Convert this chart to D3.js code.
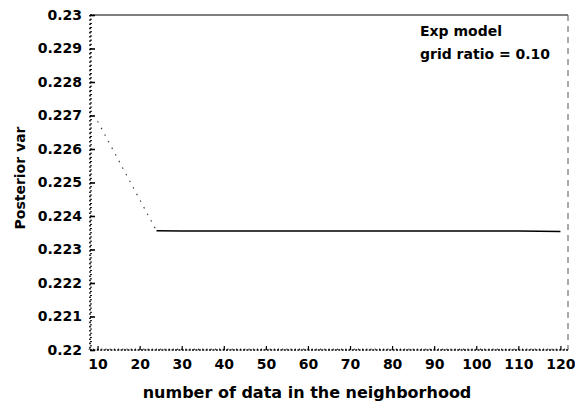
<!DOCTYPE html>
<html>
<head>
<meta charset="utf-8">
<script src="https://cdn.jsdelivr.net/npm/d3@7"></script>
<style>
  html, body { margin: 0; padding: 0; background: #fff; }
  svg text { font-family: "DejaVu Sans", "Liberation Sans", Arial, sans-serif; font-weight: bold; fill: #000; }
</style>
</head>
<body>
<svg id="chart" width="575" height="408"></svg>
<script>
// Neighbourhood sizes and the posterior variance computed for each
const nData = [10, 24, 30, 40, 50, 60, 70, 80, 90, 100, 110, 120];
const postVar = [0.22683, 0.22356, 0.22355, 0.22355, 0.22355, 0.22355, 0.22355, 0.22355, 0.22355, 0.22355, 0.22355, 0.22354];
const xTicks = [10, 20, 30, 40, 50, 60, 70, 80, 90, 100, 110, 120];
const yTicks = [0.22, 0.221, 0.222, 0.223, 0.224, 0.225, 0.226, 0.227, 0.228, 0.229, 0.23];
const yTickLabels = ["0.22", "0.221", "0.222", "0.223", "0.224", "0.225", "0.226", "0.227", "0.228", "0.229", "0.23"];
const notes = ["Exp model", "grid ratio = 0.10"];

const svg = d3.select("#chart");
const m = { left: 90, right: 568, top: 15, bottom: 350 };
const FONT = "DejaVu Sans, Liberation Sans, Arial, sans-serif";

const x = d3.scaleLinear().domain([8.2, 121.8]).range([m.left, m.right]);
const y = d3.scaleLinear().domain([0.22, 0.23]).range([m.bottom, m.top]);

// Frame: solid top, dashed right
svg.append("line").attr("x1", m.left).attr("x2", m.right).attr("y1", m.top).attr("y2", m.top)
  .attr("stroke", "#000").attr("stroke-width", 1.2);
svg.append("line").attr("x1", m.right).attr("x2", m.right).attr("y1", m.top).attr("y2", m.bottom)
  .attr("stroke", "#555").attr("stroke-width", 1).attr("stroke-dasharray", "6,5");

// Left axis: dotted spine with dense minor ticks
svg.append("line").attr("x1", m.left).attr("x2", m.left).attr("y1", m.top).attr("y2", m.bottom)
  .attr("stroke", "#000").attr("stroke-width", 1.6).attr("stroke-dasharray", "1.6,2.6");
const yMinor = d3.range(0, 81).map(i => 0.22 + i * 0.000125);
svg.append("g").selectAll("line").data(yMinor).join("line")
  .attr("x1", m.left).attr("x2", m.left + 2)
  .attr("y1", d => y(d)).attr("y2", d => y(d))
  .attr("stroke", "#000").attr("stroke-width", 1);

const yAxis = d3.axisLeft(y).tickValues(yTicks).tickSize(-5).tickPadding(8)
  .tickFormat((d, i) => yTickLabels[i]);
const gy = svg.append("g").attr("transform", `translate(${m.left},0)`).call(yAxis);
gy.select(".domain").remove();
gy.selectAll(".tick line").attr("stroke", "#000").attr("stroke-width", 1.6);
gy.selectAll(".tick text").attr("font-size", 14).attr("font-family", FONT).attr("font-weight", "bold");

// Bottom axis: dotted spine with minor ticks
svg.append("line").attr("x1", m.left).attr("x2", m.right).attr("y1", m.bottom).attr("y2", m.bottom)
  .attr("stroke", "#000").attr("stroke-width", 1.6).attr("stroke-dasharray", "2,1.4");
const xMinor = d3.range(8, 122, 1);
svg.append("g").selectAll("line").data(xMinor).join("line")
  .attr("x1", d => x(d)).attr("x2", d => x(d))
  .attr("y1", m.bottom).attr("y2", m.bottom - 1.5)
  .attr("stroke", "#000").attr("stroke-width", 0.8);

const xAxis = d3.axisBottom(x).tickValues(xTicks).tickSize(-4).tickPadding(9);
const gx = svg.append("g").attr("transform", `translate(0,${m.bottom})`).call(xAxis);
gx.select(".domain").remove();
gx.selectAll(".tick line").attr("stroke", "#000").attr("stroke-width", 1.2);
gx.selectAll(".tick text").attr("font-size", 14).attr("font-family", FONT).attr("font-weight", "bold");

// Posterior variance curve: faint dotted descent, then solid plateau
svg.append("path").datum(postVar.slice(0, 2))
  .attr("d", d3.line().x((d, i) => x(nData[i])).y(d => y(d)))
  .attr("fill", "none").attr("stroke", "#333").attr("stroke-width", 1.1)
  .attr("stroke-dasharray", "1.5,6");
svg.append("path").datum(postVar.slice(1))
  .attr("d", d3.line().x((d, i) => x(nData[i + 1])).y(d => y(d)))
  .attr("fill", "none").attr("stroke", "#000").attr("stroke-width", 1.5);

// Axis titles
svg.append("text").attr("x", 307).attr("y", 398)
  .attr("text-anchor", "middle").attr("font-size", 16).text("number of data in the neighborhood");
svg.append("text").attr("transform", `translate(25,178) rotate(-90)`)
  .attr("text-anchor", "middle").attr("font-size", 14).text("Posterior var");

// Model annotation
svg.append("g").selectAll("text").data(notes).join("text")
  .attr("x", 420).attr("y", (d, i) => 36 + i * 23)
  .attr("font-size", 14)
  .text(d => d);
</script>
</body>
</html>
